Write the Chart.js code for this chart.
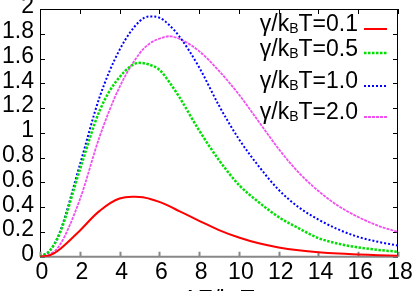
<!DOCTYPE html>
<html>
<head>
<meta charset="utf-8">
<script src="https://cdn.jsdelivr.net/npm/chart.js@4.4.0/dist/chart.umd.min.js"></script>
<style>
  html, body { margin: 0; padding: 0; background: #fff; }
  #wrap { position: relative; width: 415px; height: 291px; overflow: hidden; font-family: "Liberation Sans", Arial, sans-serif; }
  #chart { position: absolute; left: 0; top: 0; }
  .leg { position: absolute; right: 57px; font-size: 23px; line-height: 23px; color: #000; white-space: nowrap; }
  .leg sub, #xtitle sub { font-size: 14px; vertical-align: -2px; line-height: 0; }
  .sample { position: absolute; left: 364px; width: 23px; height: 4px; }
  #xtitle { position: absolute; left: 40px; width: 357px; text-align: center; top: 288px; font-size: 23px; line-height: 23px; }
</style>
</head>
<body>
<div id="wrap">
  <canvas id="chart" width="415" height="291"></canvas>

  <div class="leg" style="top:12px">γ/k<sub>B</sub>T=0.1</div>
  <div class="leg" style="top:37px">γ/k<sub>B</sub>T=0.5</div>
  <div class="leg" style="top:69px">γ/k<sub>B</sub>T=1.0</div>
  <div class="leg" style="top:100px">γ/k<sub>B</sub>T=2.0</div>
  <svg class="sample" style="top:27px"><line x1="0" y1="2" x2="23" y2="2" stroke="#ff0000" stroke-width="2"/></svg>
  <svg class="sample" style="top:51px"><line x1="0" y1="2" x2="23" y2="2" stroke="#00e000" stroke-width="2.5" stroke-dasharray="2.5 1.5"/></svg>
  <svg class="sample" style="top:84px"><line x1="0" y1="2" x2="23" y2="2" stroke="#0000ff" stroke-width="2" stroke-dasharray="2 2"/></svg>
  <svg class="sample" style="top:115px"><line x1="0" y1="2" x2="23" y2="2" stroke="#f050f0" stroke-width="2" stroke-dasharray="3 1"/></svg>

  <div id="xtitle">ΔE/k<sub>B</sub>T</div>
</div>

<script>
// data
const energies = [0, 0.5, 1, 2, 3, 4, 5, 5.5, 6, 6.5, 7, 8, 9, 10, 11, 12, 13, 14, 15, 16, 17, 18];
const gamma01 = [0, 0.012, 0.06, 0.21, 0.37, 0.47, 0.483, 0.468, 0.443, 0.408, 0.368, 0.29, 0.215, 0.155, 0.108, 0.075, 0.052, 0.036, 0.025, 0.018, 0.012, 0.008];
const gamma05 = [0, 0.05, 0.19, 0.70, 1.18, 1.45, 1.565, 1.55, 1.51, 1.41, 1.29, 1.02, 0.78, 0.58, 0.44, 0.32, 0.23, 0.15, 0.105, 0.075, 0.055, 0.04];
const gamma10 = [0, 0.05, 0.20, 0.74, 1.29, 1.67, 1.90, 1.94, 1.93, 1.87, 1.78, 1.53, 1.22, 0.95, 0.73, 0.54, 0.40, 0.30, 0.22, 0.16, 0.12, 0.09];
const gamma20 = [0, 0.02, 0.095, 0.46, 0.97, 1.37, 1.64, 1.72, 1.76, 1.78, 1.76, 1.66, 1.50, 1.31, 1.09, 0.87, 0.68, 0.53, 0.41, 0.32, 0.25, 0.20];
const xTicks = [0, 2, 4, 6, 8, 10, 12, 14, 16, 18];
const yTicks = ['0', '0.2', '0.4', '0.6', '0.8', '1', '1.2', '1.4', '1.6', '1.8', '2'];

const toPoints = (arr) => energies.map((e, i) => ({ x: e, y: arr[i] }));
const tickFont = { family: '"Liberation Sans", Arial, sans-serif', size: 23 };

// gnuplot style frame with inward ticks
const frame = {
  id: 'frame',
  beforeDatasetsDraw(chart) {
    const { ctx, chartArea: a, scales: { x, y } } = chart;
    ctx.save();
    ctx.strokeStyle = '#000';
    ctx.lineWidth = 1;
    ctx.beginPath();
    ctx.moveTo(a.left + 0.5, a.bottom);
    ctx.lineTo(a.left + 0.5, a.top + 0.5);
    ctx.lineTo(a.right - 0.5, a.top + 0.5);
    ctx.lineTo(a.right - 0.5, a.bottom);
    x.ticks.forEach((t) => {
      const px = Math.round(x.getPixelForValue(t.value)) + 0.5;
      ctx.moveTo(px, a.top);
      ctx.lineTo(px, a.top + 5);
    });
    y.ticks.forEach((t) => {
      const py = Math.round(y.getPixelForValue(t.value)) + 0.5;
      ctx.moveTo(a.left, py);
      ctx.lineTo(a.left + 5, py);
      ctx.moveTo(a.right, py);
      ctx.lineTo(a.right - 5, py);
    });
    ctx.stroke();

    ctx.strokeStyle = '#888';
    ctx.lineWidth = 2;
    ctx.beginPath();
    ctx.moveTo(a.left, a.bottom);
    ctx.lineTo(a.right, a.bottom);
    x.ticks.forEach((t) => {
      const px = Math.round(x.getPixelForValue(t.value)) + 0.5;
      ctx.moveTo(px, a.bottom);
      ctx.lineTo(px, a.bottom - 5);
    });
    ctx.stroke();
    ctx.restore();
  }
};

new Chart(document.getElementById('chart'), {
  type: 'line',
  data: {
    datasets: [
      { data: toPoints(gamma01), borderColor: '#ff0000', borderWidth: 2, cubicInterpolationMode: 'default', tension: 0.4 },
      { data: toPoints(gamma05), borderColor: '#00e000', borderWidth: 2.5, borderDash: [2.5, 1.5] },
      { data: toPoints(gamma10), borderColor: '#0000ff', borderWidth: 2, borderDash: [2, 2] },
      { data: toPoints(gamma20), borderColor: '#f050f0', borderWidth: 1.8, borderDash: [3, 1] }
    ]
  },
  options: {
    responsive: false,
    animation: false,
    layout: { padding: { top: 9, right: 17, left: 0, bottom: 0 } },
    elements: { point: { radius: 0 }, line: { cubicInterpolationMode: 'monotone', fill: false } },
    plugins: { legend: { display: false }, tooltip: { enabled: false } },
    scales: {
      x: {
        type: 'linear', min: 0, max: 18,
        afterBuildTicks: (s) => { s.ticks = xTicks.map((v) => ({ value: v })); },
        ticks: { font: tickFont, color: '#000', padding: 2, labelOffset: 2, maxRotation: 0, autoSkip: false },
        grid: { display: false, drawTicks: false },
        border: { display: false },
        afterFit: (s) => { s.height = 34.3; s.paddingLeft = 0; s.paddingRight = 0; }
      },
      y: {
        type: 'linear', min: 0, max: 2,
        afterBuildTicks: (s) => { s.ticks = yTicks.map((v) => ({ value: parseFloat(v) })); },
        ticks: { font: tickFont, color: '#000', padding: 6, labelOffset: -2, autoSkip: false,
          callback: (v, i) => yTicks[i] },
        grid: { display: false, drawTicks: false },
        border: { display: false },
        afterFit: (s) => { s.width = 40; s.paddingTop = 0; s.paddingBottom = 0; }
      }
    }
  },
  plugins: [frame]
});
</script>
</body>
</html>
